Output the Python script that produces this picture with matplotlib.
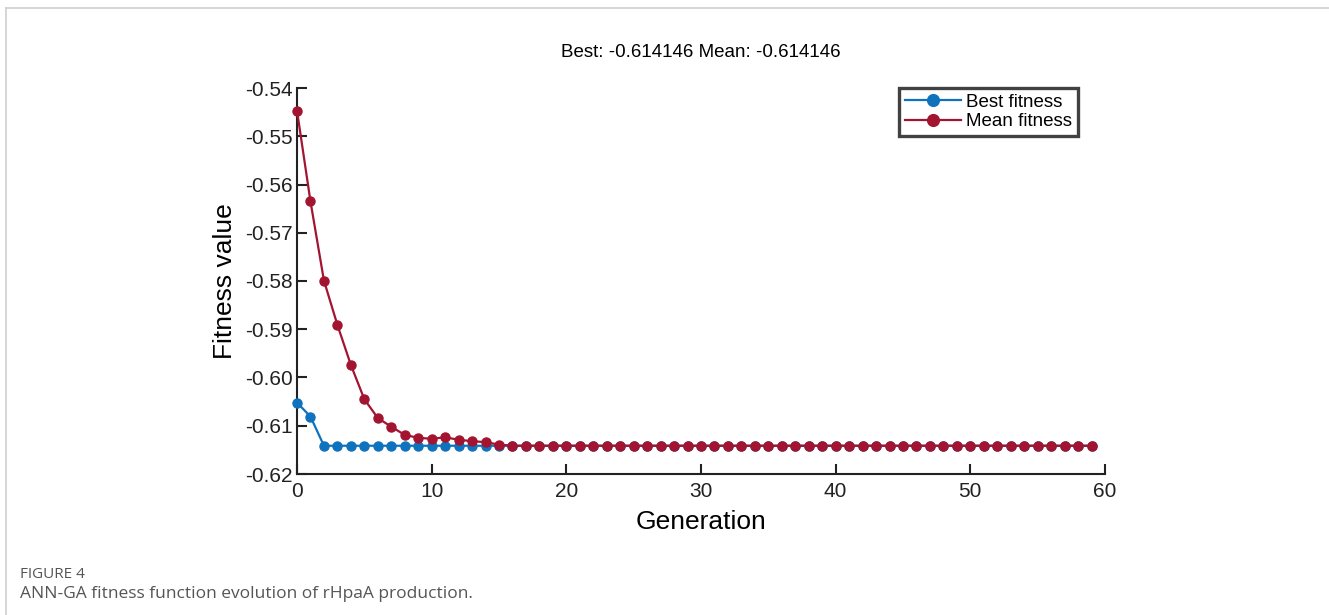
import matplotlib
matplotlib.use("Agg")
import matplotlib.pyplot as plt
from matplotlib.lines import Line2D

generations = list(range(60))
best_fitness = [-0.6052, -0.6081] + [-0.614146] * 58
mean_fitness = [-0.5447, -0.5635, -0.5799, -0.5891, -0.5974, -0.6045, -0.6084,
                -0.6102, -0.6119, -0.6125, -0.6127, -0.6124, -0.6129, -0.6132,
                -0.6134, -0.6139] + [-0.614146] * 44
yticks = [-0.54, -0.55, -0.56, -0.57, -0.58, -0.59, -0.60, -0.61, -0.62]
xticks = [0, 10, 20, 30, 40, 50, 60]
title = "Best: -0.614146 Mean: -0.614146"

plt.rcParams['font.family'] = ['Liberation Sans', 'DejaVu Sans']

W, H = 1329, 615
fig = plt.figure(figsize=(W / 100, H / 100), dpi=100)

left, right, top, bottom = 297, 1105, 88, 474
ax = fig.add_axes([left / W, 1 - bottom / H, (right - left) / W, (bottom - top) / H])

blue = '#0f72bd'
red = '#a2142f'
ax.plot(generations, best_fitness, '-o', color=blue, lw=1.6, ms=6.5, label='Best fitness', clip_on=False, zorder=3)
ax.plot(generations, mean_fitness, '-o', color=red, lw=1.6, ms=6.5, label='Mean fitness', clip_on=False, zorder=4)

ax.set_xlim(0, 60)
ax.set_ylim(-0.62, -0.54)
ax.set_xticks(xticks)
ax.set_yticks(yticks)
ax.set_yticklabels([f"{v:.2f}" for v in yticks])
for s in ['top', 'right']:
    ax.spines[s].set_visible(False)
for s in ['left', 'bottom']:
    ax.spines[s].set_linewidth(1.5)
    ax.spines[s].set_color('#222222')
ax.tick_params(direction='in', length=7, width=1.5, labelsize=15, colors='#222222', pad=3)
ax.tick_params(axis='x', pad=6)
ax.set_xlabel('Generation', fontsize=19, labelpad=6)
ax.set_ylabel('Fitness value', fontsize=19, labelpad=6)
ax.set_title(title, fontsize=13.5, pad=22)

leg = ax.legend(loc='upper right', bbox_to_anchor=((1078 - left) / (right - left), 1.0),
                frameon=True, fancybox=False, fontsize=13.5, handlelength=3.0,
                markerscale=1.3, borderpad=0.3, labelspacing=0.12, handletextpad=0.3,
                borderaxespad=0)
leg.get_frame().set_edgecolor('#111111')
leg.get_frame().set_linewidth(2.4)

fig.add_artist(Line2D([6 / W, 1], [1 - 8 / H, 1 - 8 / H], color='#d0d0d0', lw=1.2))
fig.add_artist(Line2D([6 / W, 6 / W], [0, 1 - 8 / H], color='#d0d0d0', lw=1.2))
fig.text(20 / W, 1 - 575 / H, 'FIGURE 4', fontsize=11, color='#555555',
         family=['Open Sans', 'DejaVu Sans'], va='center')
fig.text(20 / W, 1 - 594 / H, 'ANN-GA fitness function evolution of rHpaA production.',
         fontsize=12.5, color='#555555', family=['Open Sans', 'DejaVu Sans'], va='center')

fig.savefig('out.png', dpi=100)
